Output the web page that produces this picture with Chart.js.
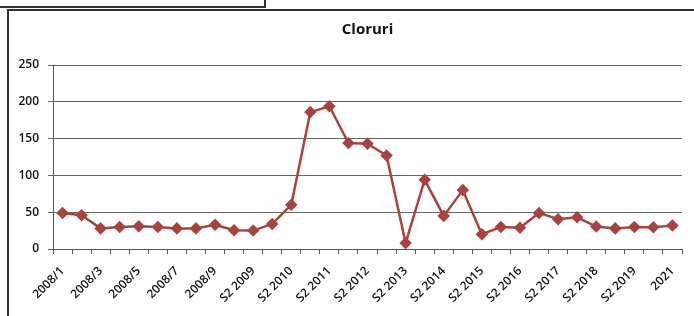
<!DOCTYPE html>
<html>
<head>
<meta charset="utf-8">
<script src="https://cdn.jsdelivr.net/npm/chart.js@4.4.0/dist/chart.umd.min.js"></script>
<style>
  html, body { margin: 0; padding: 0; background: #fff; }
  #wrap { position: relative; width: 694px; height: 316px; overflow: hidden; }
  #myChart { position: absolute; left: 0; top: 0; }
  .frame { position: absolute; background: #333; }
</style>
</head>
<body>
<div id="wrap">
  <canvas id="myChart" width="694" height="316"></canvas>
  <!-- khung giấy scan -->
  <div class="frame" style="left:0;top:6px;width:266px;height:2px;"></div>
  <div class="frame" style="left:264px;top:0;width:2px;height:8px;"></div>
  <div class="frame" style="left:7px;top:9px;width:687px;height:2px;"></div>
  <div class="frame" style="left:7px;top:9px;width:2px;height:307px;"></div>
</div>
<script>
// Nhãn trục X (33 mốc, chỉ hiện mốc chẵn)
const labels = [
  '2008/1', '2008/2', '2008/3', '2008/4', '2008/5', '2008/6', '2008/7', '2008/8', '2008/9',
  'S1 2009', 'S2 2009', 'S1 2010', 'S2 2010', 'S1 2011', 'S2 2011', 'S1 2012', 'S2 2012',
  'S1 2013', 'S2 2013', 'S1 2014', 'S2 2014', 'S1 2015', 'S2 2015', 'S1 2016', 'S2 2016',
  'S1 2017', 'S2 2017', 'S1 2018', 'S2 2018', 'S1 2019', 'S2 2019', '2020', '2021'
];

// Giá trị clorua
const cloruri = [
  49, 46, 28, 30, 31, 30, 28, 28, 33, 25.5, 25, 34, 60, 186, 194, 144, 143,
  127, 8, 94, 45, 80, 20, 30, 29, 49, 40.5, 43, 30.5, 28, 30, 29.5, 32
];

const yTicks = [0, 50, 100, 150, 200, 250];

const ctx = document.getElementById('myChart').getContext('2d');
const myChart = new Chart(ctx, {
  type: 'line',
  data: {
    labels: labels,
    datasets: [{
      label: 'Cloruri',
      data: cloruri,
      borderColor: '#A8433F',
      backgroundColor: '#A8433F',
      borderWidth: 2.5,
      pointStyle: 'rectRot',
      pointRadius: 4.5,
      pointHoverRadius: 4.5,
      tension: 0,
      fill: false
    }]
  },
  options: {
    responsive: false,
    animation: false,
    layout: { padding: { left: 0, right: 12, top: 0, bottom: 0 } },
    plugins: {
      legend: { display: false },
      tooltip: { enabled: false },
      title: {
        display: true,
        text: 'Cloruri',
        color: '#111',
        fullSize: false,
        font: { family: 'Open Sans', size: 15, weight: 'bold' },
        padding: { top: 21, bottom: 26 }
      }
    },
    scales: {
      x: {
        offset: true,
        grid: {
          offset: true,
          drawOnChartArea: false,
          drawTicks: true,
          tickLength: 5,
          color: '#555'
        },
        border: { color: '#555', width: 1 },
        ticks: {
          autoSkip: false,
          minRotation: 45,
          maxRotation: 45,
          padding: 10,
          color: '#111',
          font: { family: 'Open Sans', size: 12, weight: '600' },
          callback: function (value, index) {
            return index % 2 === 0 ? labels[index] : '';
          }
        },
        afterFit: function (scale) { scale.height = 67; }
      },
      y: {
        min: 0,
        max: 250,
        grid: {
          color: '#666',
          drawTicks: true,
          tickLength: 5
        },
        border: { color: '#555', width: 1 },
        afterBuildTicks: function (scale) {
          scale.ticks = yTicks.map(v => ({ value: v }));
        },
        ticks: {
          padding: 9,
          color: '#111',
          font: { family: 'Open Sans', size: 12, weight: '600' }
        },
        afterFit: function (scale) { scale.width = 53; }
      }
    }
  }
});
</script>
</body>
</html>
